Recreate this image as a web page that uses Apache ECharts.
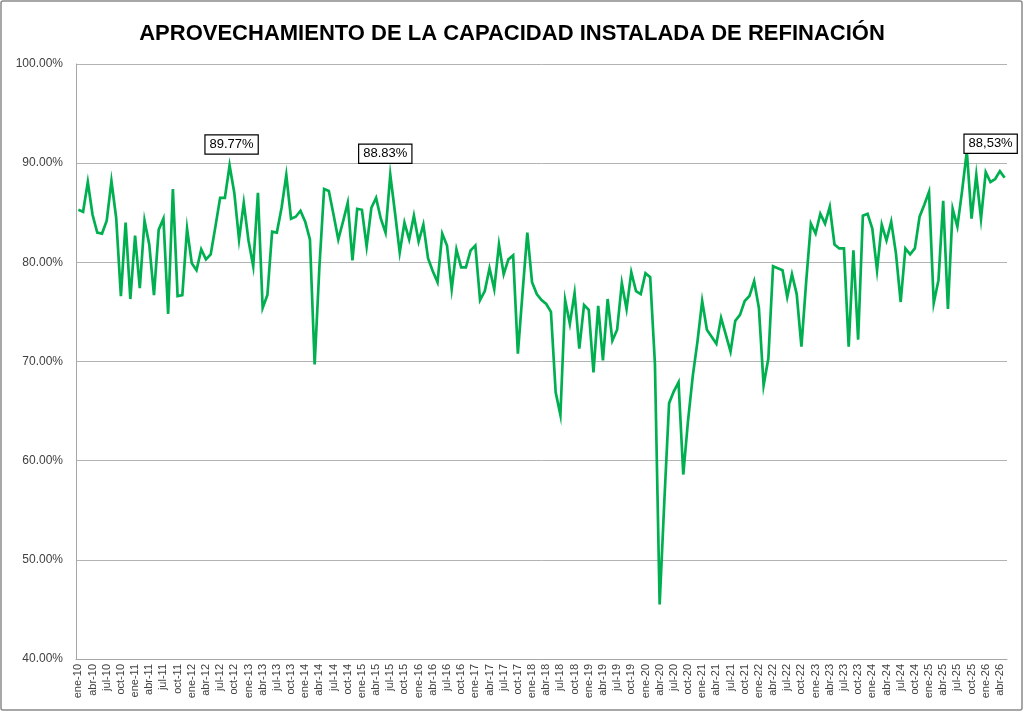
<!DOCTYPE html>
<html>
<head>
<meta charset="utf-8">
<script src="https://cdn.jsdelivr.net/npm/echarts@6/dist/echarts.min.js"></script>
<style>
html,body{margin:0;padding:0;background:#fff;}
#c{width:1024px;height:712px;}
</style>
</head>
<body>
<div id="c"></div>
<script>
// Month names and years used for category labels
const monthNames = ['ene','feb','mar','abr','may','jun','jul','ago','sep','oct','nov','dic'];
const firstYear = 2010;

// Monthly refinery capacity utilisation (%), ene-10 .. may-26
const values = [
  85.3, 85.1, 88.1, 84.8, 83.0, 82.9, 84.2, 88.2, 84.5, 76.6, 84.0, 76.3,
  82.7, 77.4, 84.2, 81.8, 76.7, 83.3, 84.4, 74.8, 87.4, 76.6, 76.7, 83.4,
  79.9, 79.2, 81.3, 80.3, 80.8, 83.6, 86.5, 86.5, 89.77, 87.0, 82.3, 86.0,
  82.2, 79.6, 87.0, 75.4, 76.7, 83.1, 83.0, 85.5, 88.8, 84.4, 84.6, 85.2,
  84.1, 82.3, 69.7, 79.5, 87.4, 87.2, 84.8, 82.3, 84.1, 86.0, 80.2, 85.4,
  85.3, 81.6, 85.5, 86.5, 84.4, 83.0, 88.83, 85.0, 81.0, 84.0, 82.3, 84.7,
  82.1, 83.8, 80.4, 79.1, 78.0, 82.9, 81.7, 77.3, 81.3, 79.5, 79.5, 81.2,
  81.7, 76.2, 77.1, 79.4, 77.3, 81.8, 78.8, 80.3, 80.7, 70.8, 77.0, 83.0,
  78.0, 76.8, 76.2, 75.8, 75.0, 66.9, 64.6, 76.2, 73.8, 76.9, 71.3, 75.7,
  75.2, 68.9, 75.6, 70.1, 76.3, 72.1, 73.2, 77.9, 75.3, 79.0, 77.1, 76.8,
  78.9, 78.5, 69.8, 45.5, 56.0, 65.8, 67.0, 67.9, 58.6, 64.0, 68.5, 72.0,
  76.1, 73.2, 72.5, 71.8, 74.4, 72.7, 71.0, 74.1, 74.7, 76.1, 76.6, 78.1,
  75.4, 67.6, 70.3, 79.6, 79.4, 79.2, 76.5, 78.8, 76.8, 71.5, 78.0, 83.9,
  82.9, 84.9, 83.9, 85.6, 81.8, 81.4, 81.4, 71.5, 81.2, 72.2, 84.7, 84.9,
  83.4, 79.2, 83.8, 82.2, 84.1, 80.9, 76.0, 81.4, 80.8, 81.4, 84.6, 85.8,
  87.1, 75.9, 78.2, 86.2, 75.3, 85.4, 83.6, 87.2, 91.2, 84.4, 88.8, 84.4,
  89.1, 88.1, 88.4, 89.2, 88.53
];

// Annotated points (index into values) and their label texts
const labelIndex = [32, 66, 196];
const labelText = ['89.77%', '88.83%', '88,53%'];

// Y axis ticks
const yMin = 40, yMax = 100, yStep = 10;

const categories = values.map((v, i) => {
  const m = monthNames[i % 12];
  const y = String((firstYear + Math.floor(i / 12)) % 100).padStart(2, '0');
  return m + '-' + y;
});

const labelOffsets = [[2, -21], [-5, -21], [-14, -34]];

const chart = echarts.init(document.getElementById('c'), null, {renderer: 'canvas'});
chart.setOption({
  backgroundColor: '#ffffff',
  animation: false,
  title: {
    text: 'APROVECHAMIENTO DE LA CAPACIDAD INSTALADA DE REFINACIÓN',
    left: 'center',
    top: 18,
    textStyle: {
      fontFamily: "'Liberation Sans', Arial, sans-serif",
      fontWeight: 'bold',
      fontSize: 22,
      color: '#000000'
    }
  },
  graphic: [{
    type: 'rect',
    shape: {x: 1, y: 1, width: 1021, height: 709, r: 2},
    style: {fill: 'none', stroke: '#8a8a8a', lineWidth: 1.5},
    silent: true
  }],
  grid: {left: 76, right: 17, top: 64, bottom: 53, containLabel: false},
  xAxis: {
    type: 'category',
    data: categories,
    boundaryGap: true,
    axisLine: {show: true, lineStyle: {color: '#a6a6a6', width: 1}},
    axisTick: {show: false},
    axisLabel: {
      interval: 2,
      rotate: 90,
      fontSize: 11,
      color: '#404040',
      fontFamily: "'Liberation Sans', Arial, sans-serif",
      margin: 5
    },
    splitLine: {show: false}
  },
  yAxis: {
    type: 'value',
    min: yMin,
    max: yMax,
    interval: yStep,
    axisLine: {show: true, lineStyle: {color: '#a6a6a6', width: 1}},
    axisTick: {show: false},
    axisLabel: {
      formatter: v => v.toFixed(2) + '%',
      fontSize: 12,
      color: '#404040',
      fontFamily: "'Liberation Sans', Arial, sans-serif",
      margin: 13
    },
    splitLine: {show: true, lineStyle: {color: '#b3b3b3', width: 1}}
  },
  series: [{
    type: 'line',
    data: values,
    showSymbol: false,
    symbol: 'none',
    lineStyle: {color: '#00B050', width: 2.7, join: 'miter'},
    z: 3,
    markPoint: {
      symbol: 'circle',
      symbolSize: 1,
      itemStyle: {color: 'rgba(0,0,0,0)'},
      label: {
        show: true,
        position: 'inside',
        color: '#000',
        fontSize: 13,
        fontFamily: "'Liberation Sans', Arial, sans-serif",
        backgroundColor: '#ffffff',
        borderColor: '#000000',
        borderWidth: 1.2,
        padding: [3, 4, 2, 4]
      },
      data: labelIndex.map((idx, k) => ({
        coord: [categories[idx], values[idx]],
        label: {formatter: labelText[k], offset: labelOffsets[k]}
      }))
    }
  }]
});
</script>
</body>
</html>
